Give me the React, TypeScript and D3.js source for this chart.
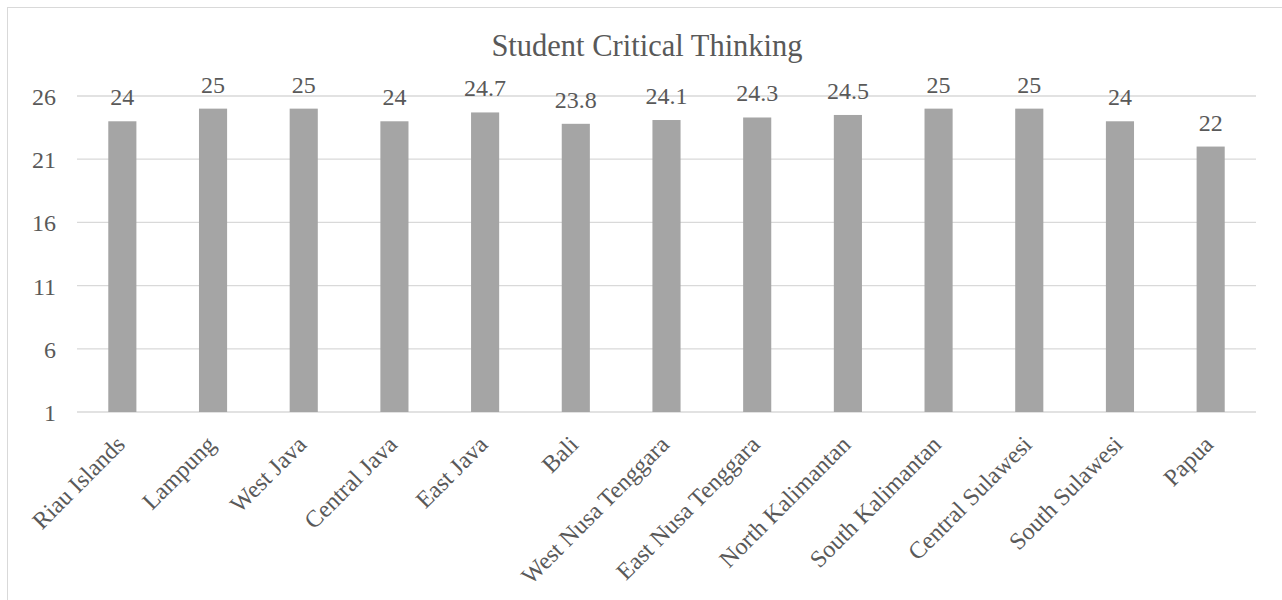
import React from 'react'
import * as d3 from 'd3'

const regions = [
  'Riau Islands',
  'Lampung',
  'West Java',
  'Central Java',
  'East Java',
  'Bali',
  'West Nusa Tenggara',
  'East Nusa Tenggara',
  'North Kalimantan',
  'South Kalimantan',
  'Central Sulawesi',
  'South Sulawesi',
  'Papua'
]
const scores = [24, 25, 25, 24, 24.7, 23.8, 24.1, 24.3, 24.5, 25, 25, 24, 22]
const yTicks = [1, 6, 11, 16, 21, 26]
const title = 'Student Critical Thinking'

const W = 1282
const H = 600
const margin = { top: 96, right: 26, bottom: 188, left: 77 }
const font = '"Liberation Serif", "Times New Roman", serif'
const textColor = '#595959'

export default function App() {
  const x = d3
    .scaleBand()
    .domain(regions)
    .range([margin.left, W - margin.right])
  const y = d3
    .scaleLinear()
    .domain([1, 26])
    .range([H - margin.bottom, margin.top])
  const barW = x.bandwidth() * 0.31

  return (
    <svg
      width={W}
      height={H}
      style={{ position: 'absolute', left: 0, top: 0, background: '#fff' }}
      fontFamily={font}
    >
      {/* chart frame, cropped at right/bottom in the source */}
      <rect x={7.5} y={7.5} width={W + 20} height={H + 20} fill="#fff" stroke="#d9d9d9" />

      <text x={647} y={56} textAnchor="middle" fontSize={30.5} fill={textColor}>
        {title}
      </text>

      {yTicks.map(t => (
        <g key={t}>
          <line
            x1={margin.left}
            x2={W - margin.right}
            y1={y(t)}
            y2={y(t)}
            stroke="#d9d9d9"
            strokeWidth={1.3}
          />
          <text
            x={56}
            y={y(t) + 1}
            textAnchor="end"
            dominantBaseline="central"
            fontSize={24}
            fill={textColor}
          >
            {t}
          </text>
        </g>
      ))}

      {regions.map((r, i) => {
        const cx = x(r)! + x.bandwidth() / 2
        const v = scores[i]
        return (
          <g key={r}>
            <rect
              x={cx - barW / 2}
              y={y(v)}
              width={barW}
              height={y(1) - y(v)}
              fill="#a5a5a5"
            />
            <text
              x={cx}
              y={y(v) - 16}
              textAnchor="middle"
              fontSize={24}
              fill={textColor}
            >
              {v}
            </text>
            <text
              transform={`translate(${cx + 4},${y(1) + 34}) rotate(-45)`}
              textAnchor="end"
              fontSize={24}
              fill={textColor}
            >
              {r}
            </text>
          </g>
        )
      })}
    </svg>
  )
}
